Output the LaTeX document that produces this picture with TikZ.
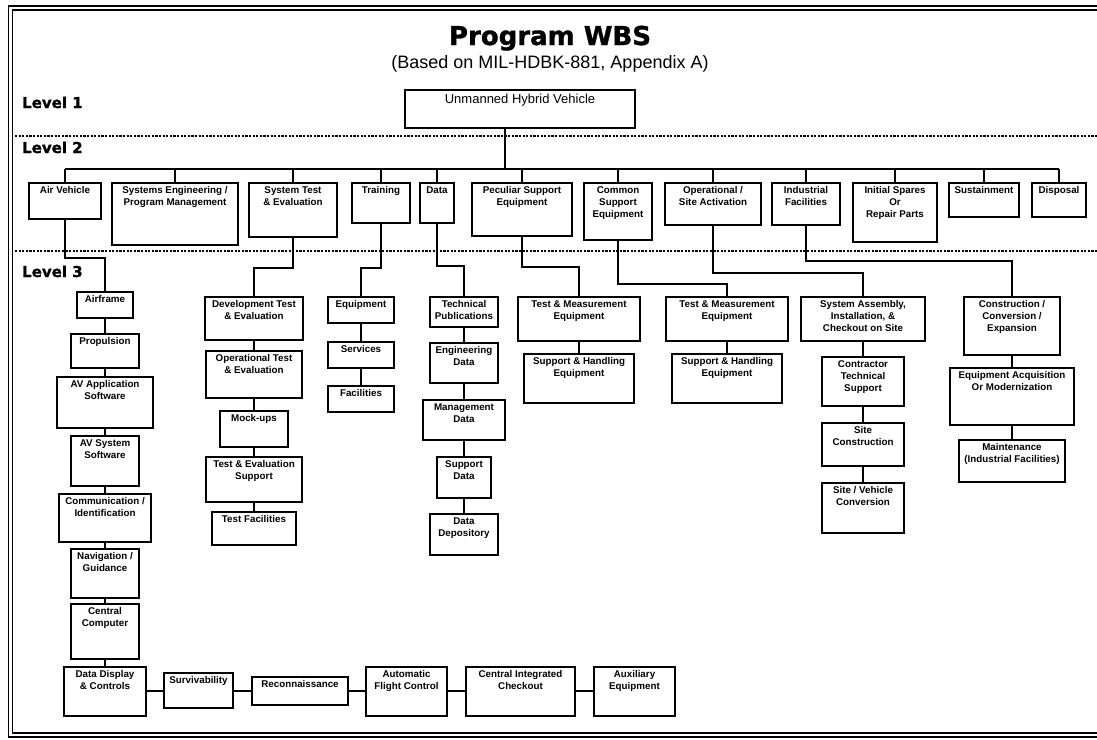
\documentclass[tikz,border=0pt]{standalone}
\usepackage{fontspec}
\setmainfont{Liberation Sans}
\newfontfamily\heavyfont{DejaVu Sans}[BoldFeatures={FakeBold=1.2}]
\usetikzlibrary{calc}
\tikzset{
  wbsbox/.style={draw, line width=2.4pt, rectangle, inner sep=0pt, outer sep=0pt},
  wbslbl/.style={anchor=north, align=center, inner xsep=1pt, inner ysep=3.5pt, font=\fontsize{9.8}{12}\selectfont\bfseries},
  conn/.style={line width=2.4pt},
  lvlline/.style={line width=2.6pt, dash pattern=on 2.2pt off 1.4pt},
  lvltext/.style={anchor=base west, inner sep=0pt, font=\heavyfont\fontsize{15}{18}\selectfont\bfseries},
  frameline/.style={line width=1.3pt},
}
\newcommand\wbs[6]{%
  \node[wbsbox, minimum width=#4pt, minimum height=#5pt] (#1) at (#2,{#3+#5/2}) {};
  \node[wbslbl] (#1-t) at (#1.north) {#6};}
\begin{document}
\begin{tikzpicture}[x=1pt,y=-1pt]
\useasboundingbox (0,0) rectangle (1097,739);
% frame
\draw[frameline] (1097,6) -- (8.5,6) -- (8.5,737) -- (1097,737);
\draw[frameline] (1097,10) -- (12.5,10) -- (12.5,733) -- (1097,733);
% titles
\node[font=\heavyfont\fontsize{26}{30}\selectfont\bfseries, anchor=base, inner sep=0pt] (title) at (550,45) {Program WBS};
\node[font=\fontsize{18}{22}\selectfont, anchor=base, inner sep=0pt] (sub) at (550,68) {(Based on MIL-HDBK-881, Appendix A)};
% levels
\node[lvltext] (lv1) at (22,108) {Level 1};
\node[lvltext] (lv2) at (22,153) {Level 2};
\node[lvltext] (lv3) at (22,277) {Level 3};
\coordinate (d1a) at (15,136); \coordinate (d1b) at (1097,136);
\coordinate (d2a) at (15,251); \coordinate (d2b) at (1097,251);
\draw[lvlline] (d1a) -- (d1b);
\draw[lvlline] (d2a) -- (d2b);
% level 1
\node[wbsbox, minimum width=230pt, minimum height=38pt] (l1) at (520,109) {};
\node[anchor=north, inner ysep=4pt, font=\fontsize{13}{15}\selectfont] (l1-t) at (l1.north) {Unmanned Hybrid Vehicle};
% level 2
\wbs{av}{65}{183}{72}{36}{Air Vehicle}
\wbs{se}{175}{183}{126}{62}{Systems Engineering /\\Program Management}
\wbs{ste}{293}{183}{88}{54}{System Test\\\& Evaluation}
\wbs{trn}{381}{183}{58}{40}{Training}
\wbs{dat}{437}{183}{34}{40}{Data}
\wbs{pse}{522}{183}{100}{53}{Peculiar Support\\Equipment}
\wbs{cse}{618}{183}{68}{57}{Common\\Support\\Equipment}
\wbs{osa}{713}{183}{96}{42}{Operational /\\Site Activation}
\wbs{ind}{806}{183}{68}{42}{Industrial\\Facilities}
\wbs{isp}{895}{183}{84}{59}{Initial Spares\\Or\\Repair Parts}
\wbs{sus}{984}{183}{70}{34}{Sustainment}
\wbs{disp}{1059}{183}{54}{34}{Disposal}
% level 2 connectors
\coordinate (busY) at (0,169);
\draw[conn] ([xshift=-15pt]l1.south) -- ([xshift=-15pt]l1.south |- busY);
\draw[conn] (av.north |- busY) -- (disp.north |- busY);
\foreach \n in {av,se,ste,trn,dat,pse,cse,osa,ind,isp,sus,disp}
  \draw[conn] (\n.north |- busY) -- (\n.north);
% level 3 : air vehicle
\wbs{af}{105}{292}{56}{26}{Airframe}
\wbs{prop}{105}{334}{68}{34}{Propulsion}
\wbs{avapp}{105}{377}{96}{51}{AV Application\\Software}
\wbs{avsys}{105}{436}{68}{50}{AV System\\Software}
\wbs{comm}{105}{494}{92}{48}{Communication /\\Identification}
\wbs{nav}{105}{549}{68}{49}{Navigation /\\Guidance}
\wbs{cc}{105}{604}{68}{55}{Central\\Computer}
\wbs{dd}{105}{667}{82}{49}{Data Display\\\& Controls}
\wbs{surv}{198.5}{673}{69}{35}{Survivability}
\wbs{recon}{300}{677}{96}{28}{Reconnaissance}
\wbs{afc}{406.5}{667}{81}{49}{Automatic\\Flight Control}
\wbs{cic}{520.5}{667}{109}{49}{Central Integrated\\Checkout}
\wbs{aux}{634.5}{667}{81}{49}{Auxiliary\\Equipment}
% system test
\wbs{dte}{254}{297}{98}{43}{Development Test\\\& Evaluation}
\wbs{ote}{254}{351}{96}{47}{Operational Test\\\& Evaluation}
\wbs{mock}{254}{411}{68}{36}{Mock-ups}
\wbs{tes}{254}{457}{96}{45}{Test \& Evaluation\\Support}
\wbs{tf}{254}{512}{84}{33}{Test Facilities}
% training
\wbs{teq}{361}{297}{66}{26}{Equipment}
\wbs{tsv}{361}{342}{66}{26}{Services}
\wbs{tfc}{361}{386}{66}{26}{Facilities}
% data
\wbs{tp}{464}{297}{68}{30}{Technical\\Publications}
\wbs{ed}{464}{343}{68}{40}{Engineering\\Data}
\wbs{md}{464}{400}{82}{40}{Management\\Data}
\wbs{sd}{464}{457}{54}{41}{Support\\Data}
\wbs{ddp}{464}{514}{68}{41}{Data\\Depository}
% peculiar / common support
\wbs{ptm}{579}{297}{122}{44}{Test \& Measurement\\Equipment}
\wbs{psh}{579}{354}{110}{49}{Support \& Handling\\Equipment}
\wbs{ctm}{727}{297}{122}{44}{Test \& Measurement\\Equipment}
\wbs{csh}{727}{354}{110}{49}{Support \& Handling\\Equipment}
% operational / site activation
\wbs{sa}{863}{297}{124}{44}{System Assembly,\\Installation, \&\\Checkout on Site}
\wbs{cts}{863}{357}{82}{49}{Contractor\\Technical\\Support}
\wbs{sc}{863}{423}{82}{43}{Site\\Construction}
\wbs{svc}{863}{483}{82}{50}{Site / Vehicle\\Conversion}
% industrial facilities
\wbs{cce}{1012}{297}{96}{58}{Construction /\\Conversion /\\Expansion}
\wbs{eam}{1012}{368}{124}{57}{Equipment Acquisition\\Or Modernization}
\wbs{mnt}{1012}{440}{106}{42}{Maintenance\\(Industrial Facilities)}
% level 3 connectors from level 2
\coordinate (jAV) at (0,258);
\coordinate (jST) at (0,268);
\coordinate (jTR) at (0,268);
\coordinate (jDA) at (0,266);
\coordinate (jPS) at (0,267);
\coordinate (jCS) at (0,284);
\coordinate (jOS) at (0,273);
\coordinate (jIN) at (0,261);
\draw[conn] (av.south) -- (av.south |- jAV) -| (af.north);
\draw[conn] (ste.south) -- (ste.south |- jST) -| (dte.north);
\draw[conn] (trn.south) -- (trn.south |- jTR) -| (teq.north);
\draw[conn] (dat.south) -- (dat.south |- jDA) -| (tp.north);
\draw[conn] (pse.south) -- (pse.south |- jPS) -| (ptm.north);
\draw[conn] (cse.south) -- (cse.south |- jCS) -| (ctm.north);
\draw[conn] (osa.south) -- (osa.south |- jOS) -| (sa.north);
\draw[conn] (ind.south) -- (ind.south |- jIN) -| (cce.north);
% column links
\foreach \a/\b in {af/prop,prop/avapp,avapp/avsys,avsys/comm,comm/nav,nav/cc,cc/dd,
  dte/ote,ote/mock,mock/tes,tes/tf,teq/tsv,tsv/tfc,tp/ed,ed/md,md/sd,sd/ddp,
  ptm/psh,ctm/csh,sa/cts,cts/sc,sc/svc,cce/eam,eam/mnt}
  \draw[conn] (\a.south) -- (\b.north);
% bottom row links
\coordinate (hy) at (0,691);
\foreach \a/\b in {dd/surv,surv/recon,recon/afc,afc/cic,cic/aux}
  \draw[conn] (\a.east |- hy) -- (\b.west |- hy);
\end{tikzpicture}
\end{document}
